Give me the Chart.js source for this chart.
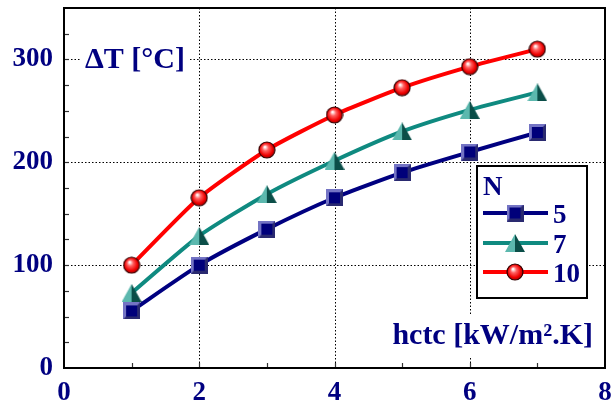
<!DOCTYPE html>
<html><head><meta charset="utf-8">
<script src="https://cdn.jsdelivr.net/npm/chart.js@4.4.0/dist/chart.umd.min.js"></script>
<style>html,body{margin:0;padding:0;background:#fff}#w{width:613px;height:405px}</style>
</head><body><div id="w"><canvas id="c" width="613" height="405"></canvas></div>
<script>
const hctc = [1, 2, 3, 4, 5, 6, 7];
const dT_N5 = [55.5, 100, 135, 165.5, 190, 210, 229];
const dT_N7 = [73, 128.5, 169, 201.5, 230, 251, 268];
const dT_N10 = [100, 165.5, 212, 246, 272.5, 293, 310];
const seriesLabels = ['5', '7', '10'];
const legendTitle = 'N';
const yTitle = 'ΔT [°C]';
const xTitle = 'hctc [kW/m².K]';
const xTickLabels = [0, 2, 4, 6, 8];
const yTickLabels = [0, 100, 200, 300];

const NAVY = '#000080', TEAL = '#0f8a80', RED = '#ff0000';
const FONT = '"Liberation Serif", "Times New Roman", serif';

function mk(w, h, fn) { const c = document.createElement('canvas'); c.width = w; c.height = h; fn(c.getContext('2d')); return c; }
const sq = mk(17, 17, g => {
  g.fillStyle = '#7474c4'; g.fillRect(0, 0, 17, 17);
  g.fillStyle = '#2a2a70'; g.beginPath(); g.moveTo(17,0); g.lineTo(17,17); g.lineTo(0,17); g.lineTo(3,14); g.lineTo(14,14); g.lineTo(14,3); g.closePath(); g.fill();
  g.fillStyle = '#00007a'; g.fillRect(3, 3, 11, 11);
});
const tri = mk(20, 18, g => {
  g.fillStyle = '#0b4e48'; g.beginPath(); g.moveTo(10, 0); g.lineTo(20, 18); g.lineTo(10, 18); g.closePath(); g.fill();
  g.fillStyle = '#5cb8ae'; g.beginPath(); g.moveTo(10, 0); g.lineTo(10, 18); g.lineTo(0, 18); g.closePath(); g.fill();
});
const cir = mk(18, 18, g => {
  const gr = g.createRadialGradient(7, 6, 0.5, 9, 9, 9); gr.addColorStop(0, '#ffffff'); gr.addColorStop(0.3, '#ff6060'); gr.addColorStop(0.7, '#ee0000'); gr.addColorStop(1, '#900000');
  g.fillStyle = gr; g.beginPath(); g.arc(9, 9, 8, 0, Math.PI * 2); g.fill();
  g.strokeStyle = '#300000'; g.lineWidth = 1.2; g.stroke();
});

const pts = arr => hctc.map((x, i) => ({ x, y: arr[i] }));
const styles = [[NAVY, sq], [TEAL, tri], [RED, cir]];
const series = [dT_N5, dT_N7, dT_N10];

const deco = {
  id: 'deco',
  beforeDatasetsDraw(chart) {
    const { ctx, chartArea: a, scales: { x, y } } = chart;
    ctx.save();
    ctx.strokeStyle = '#000'; ctx.lineWidth = 1; ctx.setLineDash([1.5, 2]);
    [2, 4, 6].forEach(v => { const p = Math.round(x.getPixelForValue(v)) + 0.5; ctx.beginPath(); ctx.moveTo(p, a.top); ctx.lineTo(p, a.bottom); ctx.stroke(); });
    [100, 200, 300].forEach(v => { const p = Math.round(y.getPixelForValue(v)) + 0.5; ctx.beginPath(); ctx.moveTo(a.left, p); ctx.lineTo(a.right, p); ctx.stroke(); });
    ctx.setLineDash([]);
    ctx.strokeStyle = '#333'; ctx.lineWidth = 1.2;
    for (let v = 1; v < 8; v++) { const p = Math.round(x.getPixelForValue(v)) + 0.5; ctx.beginPath(); ctx.moveTo(p, a.bottom); ctx.lineTo(p, a.bottom - 5); ctx.stroke(); }
    for (let v = 25; v < 350; v += 25) { const p = Math.round(y.getPixelForValue(v)) + 0.5; ctx.beginPath(); ctx.moveTo(a.left, p); ctx.lineTo(a.left + 5, p); ctx.stroke(); }
    ctx.font = 'bold 30px ' + FONT; ctx.textBaseline = 'alphabetic';
    ctx.textAlign = 'left';
    const w1 = ctx.measureText(yTitle).width;
    ctx.fillStyle = '#fff'; ctx.fillRect(80, 40, w1 + 10, 34);
    ctx.fillStyle = NAVY; ctx.fillText(yTitle, 85, 68);
    ctx.textAlign = 'right';
    const w = ctx.measureText(xTitle).width;
    ctx.fillStyle = '#fff'; ctx.fillRect(a.right - 12 - w - 4, 314, w + 8, 42);
    ctx.fillStyle = NAVY;
    ctx.fillText(xTitle, a.right - 12, 344);
    ctx.restore();
  },
  afterDatasetsDraw(chart) {
    const { ctx } = chart;
    ctx.save();
    const L = 477, T = 166, W = 110, H = 132;
    ctx.fillStyle = '#fff'; ctx.fillRect(L, T, W, H);
    ctx.strokeStyle = '#000'; ctx.lineWidth = 2; ctx.strokeRect(L, T, W, H);
    ctx.fillStyle = NAVY; ctx.font = 'bold 27px ' + FONT; ctx.textAlign = 'left'; ctx.textBaseline = 'alphabetic';
    ctx.fillText(legendTitle, 483, 195);
    const rows = [213, 243, 272];
    seriesLabels.forEach((lab, i) => {
      const yy = rows[i];
      ctx.strokeStyle = styles[i][0]; ctx.lineWidth = 4;
      ctx.beginPath(); ctx.moveTo(483, yy); ctx.lineTo(548, yy); ctx.stroke();
      const im = styles[i][1]; ctx.drawImage(im, 515 - im.width / 2, yy - im.height / 2);
      ctx.fillStyle = NAVY; ctx.fillText(lab, 553, yy + 10);
    });
    ctx.restore();
  },
  afterDraw(chart) {
    const { ctx, chartArea: a } = chart;
    ctx.save(); ctx.strokeStyle = '#000'; ctx.lineWidth = 2;
    ctx.strokeRect(a.left, a.top, a.right - a.left, a.bottom - a.top);
    ctx.restore();
  }
};

new Chart(document.getElementById('c'), {
  type: 'line',
  data: {
    datasets: series.map((s, i) => ({
      label: seriesLabels[i], data: pts(s), borderColor: styles[i][0], borderWidth: 4,
      pointStyle: styles[i][1], tension: 0.2, fill: false
    }))
  },
  options: {
    responsive: false, animation: false,
    layout: { padding: { top: 7, right: 8, left: 0, bottom: 0 } },
    plugins: { legend: { display: false }, tooltip: { enabled: false } },
    scales: {
      x: {
        type: 'linear', min: 0, max: 8,
        grid: { display: false, drawTicks: false }, border: { display: false },
        afterBuildTicks: s => { s.ticks = xTickLabels.map(v => ({ value: v })); },
        afterFit: s => { s.height = 37; s.paddingLeft = 0; s.paddingRight = 0; },
        ticks: { color: NAVY, font: { family: FONT, size: 27, weight: 'bold' }, padding: 9, autoSkip: false, maxRotation: 0 }
      },
      y: {
        type: 'linear', min: 0, max: 350,
        grid: { display: false, drawTicks: false }, border: { display: false },
        afterBuildTicks: s => { s.ticks = yTickLabels.map(v => ({ value: v })); },
        afterFit: s => { s.width = 64; s.paddingTop = 0; s.paddingBottom = 0; },
        ticks: { color: NAVY, font: { family: FONT, size: 27, weight: 'bold' }, padding: 11, autoSkip: false }
      }
    }
  },
  plugins: [deco]
});
</script></body></html>
